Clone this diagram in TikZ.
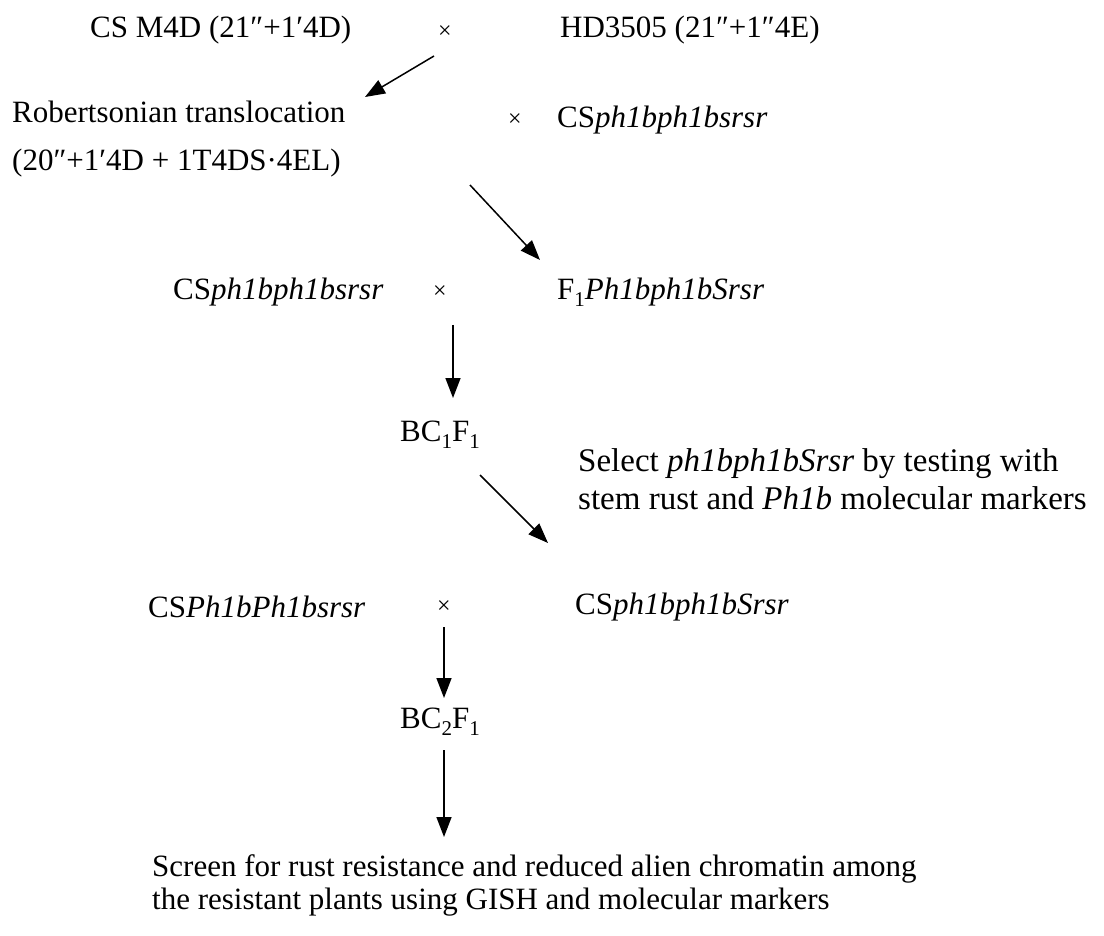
\documentclass[tikz,border=0pt]{standalone}
\usepackage{fontspec}
\setmainfont{Liberation Serif}
\usetikzlibrary{arrows.meta}
\newcommand{\lowsub}[1]{\raisebox{-0.22em}{\fontsize{21}{21}\selectfont #1}}
\tikzset{
  lbl/.style={anchor=west,inner sep=0pt,font=\fontsize{31}{36}\selectfont},
  sellbl/.style={anchor=west,inner sep=0pt,font=\fontsize{33}{38}\selectfont},
  crs/.style={inner sep=0pt,font=\fontsize{24}{28}\selectfont},
  arr/.style={line width=1.5pt,-{Triangle[length=20pt,width=15pt]}}
}
\begin{document}
\begin{tikzpicture}[x=1pt,y=-1pt]
\useasboundingbox (0,0) rectangle (1104,936);
% row 1
\node[lbl] (p1) at (90,30) {CS M4D (21″+1′4D)};
\node[crs] (x1) at (445,32) {×};
\node[lbl] (p2) at (560,30) {HD3505 (21″+1″4E)};
% row 2
\node[lbl] (rob) at (12,112) {Robertsonian translocation};
\node[lbl] (rob2) at (12,163) {(20″+1′4D + 1T4DS·4EL)};
\node[crs] (x2) at (515,120) {×};
\node[lbl] (cs1) at (557,120) {CS\textit{ph1bph1bsrsr}};
% row 3
\node[lbl] (cs2) at (173,292) {CS\textit{ph1bph1bsrsr}};
\node[crs] (x3) at (440,292) {×};
\node[lbl] (f1) at (557,292) {F\lowsub{1}\textit{Ph1bph1bSrsr}};
% BC1F1
\node[lbl] (bc1) at (400,435) {BC\lowsub{1}F\lowsub{1}};
\node[sellbl] (sel1) at (578,464) {Select \textit{ph1bph1bSrsr} by testing with};
\node[sellbl] (sel2) at (578,498) {stem rust and \textit{Ph1b} molecular markers};
% row 4
\node[lbl] (cs3) at (148,607) {CS\textit{Ph1bPh1bsrsr}};
\node[crs] (x4) at (444,607) {×};
\node[lbl] (cs4) at (575,607) {CS\textit{ph1bph1bSrsr}};
% BC2F1
\node[lbl] (bc2) at (400,722) {BC\lowsub{2}F\lowsub{1}};
\node[lbl] (scr1) at (152,869) {Screen for rust resistance and reduced alien chromatin among};
\node[lbl] (scr2) at (152,902) {the resistant plants using GISH and molecular markers};
% arrow endpoints
\coordinate (a1s) at (434,56);  \coordinate (a1e) at (365,97);
\coordinate (a2s) at (470,185); \coordinate (a2e) at (540,260);
\coordinate (a3s) at (453,325); \coordinate (a3e) at (453,398);
\coordinate (a4s) at (480,475); \coordinate (a4e) at (548,543);
\coordinate (a5s) at (444,627); \coordinate (a5e) at (444,698);
\coordinate (a6s) at (444,750); \coordinate (a6e) at (444,837);
\draw[arr] (a1s) -- (a1e);
\draw[arr] (a2s) -- (a2e);
\draw[arr] (a3s) -- (a3e);
\draw[arr] (a4s) -- (a4e);
\draw[arr] (a5s) -- (a5e);
\draw[arr] (a6s) -- (a6e);
\end{tikzpicture}
\end{document}
